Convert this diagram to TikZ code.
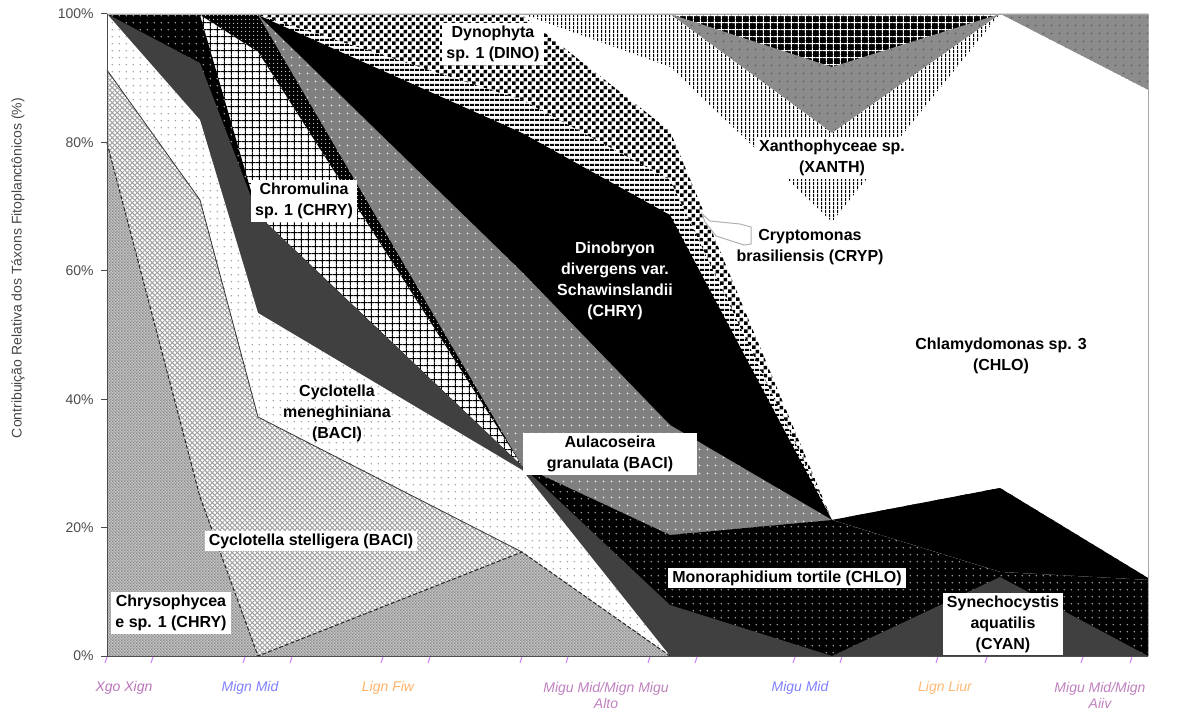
\documentclass[tikz,border=0pt]{standalone}
\usepackage{fontspec}
\setmainfont{Liberation Sans}
\usetikzlibrary{patterns.meta}

% fill patterns of the stacked areas
\tikzdeclarepattern{name=pdotsa, bounding box={(0pt,0pt) and (3.4pt,3.4pt)},
  tile size={(3.4pt,3.4pt)}, code={\fill (1.7pt,1.7pt) circle[radius=0.42pt];}}
\tikzdeclarepattern{name=pdotsb, bounding box={(0pt,0pt) and (4pt,4pt)},
  tile size={(4pt,4pt)}, code={\fill (2pt,2pt) circle[radius=0.5pt];}}
\tikzdeclarepattern{name=pdotsc, bounding box={(0pt,0pt) and (2pt,2pt)},
  tile size={(2pt,2pt)}, code={\fill (1pt,1pt) circle[radius=0.4pt];}}
\tikzdeclarepattern{name=pfine, bounding box={(0pt,0pt) and (1.4pt,1.4pt)},
  tile size={(1.4pt,1.4pt)}, code={\fill (0pt,0pt) rectangle (0.7pt,0.7pt); \fill (0.7pt,0.7pt) rectangle (1.4pt,1.4pt);}}
\tikzdeclarepattern{name=pchecker, bounding box={(0pt,0pt) and (4pt,4pt)},
  tile size={(4pt,4pt)}, code={\fill (0pt,0pt) rectangle (2pt,2pt); \fill (2pt,2pt) rectangle (4pt,4pt);}}
\tikzdeclarepattern{name=pgrid, bounding box={(0pt,0pt) and (3.4pt,3.4pt)},
  tile size={(3.4pt,3.4pt)}, code={\draw[line width=0.5pt] (0pt,1.7pt) -- (3.4pt,1.7pt) (1.7pt,0pt) -- (1.7pt,3.4pt);}}
\tikzdeclarepattern{name=pxhatch, bounding box={(0pt,0pt) and (2.4pt,2.4pt)},
  tile size={(2.4pt,2.4pt)}, code={\draw[line width=0.55pt] (0pt,0pt) -- (2.4pt,2.4pt) (0pt,2.4pt) -- (2.4pt,0pt);}}
\tikzdeclarepattern{name=phlines, bounding box={(0pt,0pt) and (2.5pt,2.5pt)},
  tile size={(2.5pt,2.5pt)}, code={\fill (0pt,0.6pt) rectangle (2.5pt,1.9pt);}}
\tikzdeclarepattern{name=pvlines, bounding box={(0pt,0pt) and (2pt,2pt)},
  tile size={(2pt,2pt)}, code={\fill (0.7pt,0pt) rectangle (1.3pt,2pt);}}

% one stacked area: everything below its upper boundary, at the eight sampling dates
\newcommand{\stacklayer}[9]{%
  \path[#1] (107,656) -- (107,#2) -- (200,#3) -- (258,#4) -- (522,#5) -- (670,#6)
    -- (832,#7) -- (1000,#8) -- (1148,#9) -- (1148,656) -- cycle;}

\begin{document}
\begin{tikzpicture}[x=0.5pt,y=-0.5pt,
  taxbox/.style={fill=white,inner xsep=2pt,inner ysep=1.5pt,align=center,
    font=\bfseries\fontsize{8}{10.5}\selectfont},
  taxtext/.style={align=center,font=\bfseries\fontsize{8}{10.5}\selectfont},
  datelabel/.style={font=\itshape\fontsize{7}{8}\selectfont,align=center},
  ]
  \tikzset{%
    chrys/.style={fill=gray!45,postaction={pattern=pfine,pattern color=gray!95}},
    stell/.style={fill=white,postaction={pattern=pxhatch,pattern color=gray!75}},
    menegh/.style={fill=white,postaction={pattern=pdotsa,pattern color=gray!75}},
    synech/.style={fill=black!75},
    monor/.style={fill=black,postaction={pattern=pdotsa,pattern color=gray!70}},
    chromul/.style={fill=white,postaction={pattern=pgrid,pattern color=black}},
    blkband/.style={fill=black,postaction={pattern=pdotsc,pattern color=white!70!gray}},
    aulac/.style={fill=gray,postaction={pattern=pdotsb,pattern color=white!85!gray}},
    dinob/.style={fill=black},
    crypto/.style={fill=white,postaction={pattern=phlines,pattern color=black}},
    dynoph/.style={fill=white,postaction={pattern=pchecker,pattern color=black}},
    chlamy/.style={fill=white},
    xanth/.style={fill=white,postaction={pattern=pvlines,pattern color=black}},
    grayspot/.style={fill=gray!90,postaction={pattern=pdotsb,pattern color=black!65}},
    blkgrid/.style={fill=black,postaction={pattern=pgrid,pattern color=white}},
    axisline/.style={draw=gray!60!black,line width=0.5pt},
  }
  \useasboundingbox (0,0) rectangle (1178,717);
  %Areas (top series first)
  \stacklayer{blkgrid} {14}{14}{14}{14}{14}{14}{14}{14}
  \stacklayer{grayspot}{14}{14}{14}{14}{14}{67}{14}{14}
  \stacklayer{xanth}   {14}{14}{14}{14}{14}{133}{14}{90}
  \stacklayer{chlamy}  {14}{14}{14}{14}{67}{222}{14}{90}
  \stacklayer{dynoph}  {14}{15}{15}{15}{131}{520}{488}{578}
  \stacklayer{crypto}  {14}{15}{15}{100}{180}{520}{488}{578}
  \stacklayer{dinob}   {14}{15}{15}{133}{215}{520}{488}{578}
  \stacklayer{aulac}   {14}{15}{15}{272}{425}{520}{572}{580}
  \stacklayer{blkband} {14}{15}{15}{466}{535}{520}{572}{580}
  \stacklayer{chromul} {14}{15}{52}{466}{535}{520}{572}{580}
  \stacklayer{monor}   {14}{15}{215}{466}{535}{520}{572}{580}
  \stacklayer{synech}  {14}{63}{215}{466}{605}{656}{577}{656}
  \stacklayer{menegh}  {14}{120}{313}{470}{656}{656}{656}{656}
  \stacklayer{stell}   {70}{200}{417}{552}{656}{656}{656}{656}
  \stacklayer{chrys}   {143}{497}{656}{552}{656}{656}{656}{656}
  % series borders
  \draw[gray!40!black,line width=0.4pt] (107,70) -- (200,200) -- (258,417) -- (522,552);
  \draw[gray!30!black,line width=0.5pt,dash pattern=on 2pt off 1pt]
    (107,143) -- (200,497) -- (258,656) -- (522,552) -- (670,656);
  % callout of Cryptomonas
  \path[fill=white,draw=gray!60,line width=0.5pt]
    (702,214) -- (710,221) -- (740,224) -- (751,227) -- (751,244) -- (744,245)
    -- (716,236) -- (705,222) -- cycle;
  %Axes
  \draw[draw=gray!70,line width=0.4pt] (107,14) -- (1148,14) -- (1148,656);
  \draw[axisline] (107,14) -- (107,656) -- (1148,656);
  \foreach \p in {0,20,40,60,80,100}{
    \draw[axisline] (101,{656-6.42*\p}) -- (107,{656-6.42*\p});
    \node[anchor=east,text=gray!60!black,font=\fontsize{7}{8}\selectfont,inner sep=1pt]
      (yl\p) at (96,{656-6.42*\p}) {\p\%};
  }
  \node[rotate=90,text=gray!55!black,font=\fontsize{7}{8}\selectfont] (ytitle) at (18,268)
    {Contribuição Relativa dos Táxons Fitoplanctônicos (\%)};
  \foreach \t in {107,153,245,292,383,430,522,568,650,697,795,842,938,987,1083,1132}{
    \draw[blue!40!magenta!50,line width=0.5pt] (\t,657) -- (\t-2,663);
  }
  %Dates
  \node[datelabel,text=violet!55] (d1) at (124,688) {Xgo Xign};
  \node[datelabel,text=blue!50] (d2) at (250,688) {Mign Mid};
  \node[datelabel,text=orange!60] (d3) at (388,688) {Lign Fiw};
  \node[datelabel,text=violet!50] (d4) at (606,695) {Migu Mid/Mign Migu\\Alto};
  \node[datelabel,text=blue!50] (d5) at (800,688) {Migu Mid};
  \node[datelabel,text=orange!55] (d6) at (945,688) {Lign Liur};
  \node[datelabel,text=violet!50] (d7) at (1100,695) {Migu Mid/Mign\\Aiiv};
  %Taxa
  \node[taxbox] (dinol) at (493,44) {Dynophyta\\sp. 1 (DINO)};
  \node[taxbox] (chroml) at (304,201) {Chromulina\\sp. 1 (CHRY)};
  \node[taxbox] (xanthl) at (832,158) {Xanthophyceae sp.\\(XANTH)};
  \node[taxtext] (cryptl) at (810,247) {Cryptomonas\\brasiliensis (CRYP)};
  \node[taxtext,text=white] (dinobl) at (615,281) {Dinobryon\\divergens var.\\Schawinslandii\\(CHRY)};
  \node[taxtext] (chlamyl) at (1001,356) {Chlamydomonas sp. 3\\(CHLO)};
  \node[taxtext] (meneghl) at (337,413) {Cyclotella\\meneghiniana\\(BACI)};
  \node[taxbox,inner xsep=12pt] (aulacl) at (610,454) {Aulacoseira\\granulata (BACI)};
  \node[taxbox] (stelll) at (311,541) {Cyclotella stelligera (BACI)};
  \node[taxbox] (chrysl) at (171,613) {Chrysophycea\\e sp. 1 (CHRY)};
  \node[taxbox] (monorl) at (787,578) {Monoraphidium tortile (CHLO)};
  \node[taxbox] (synechl) at (1003,624) {Synechocystis\\aquatilis\\(CYAN)};
\end{tikzpicture}
\end{document}
